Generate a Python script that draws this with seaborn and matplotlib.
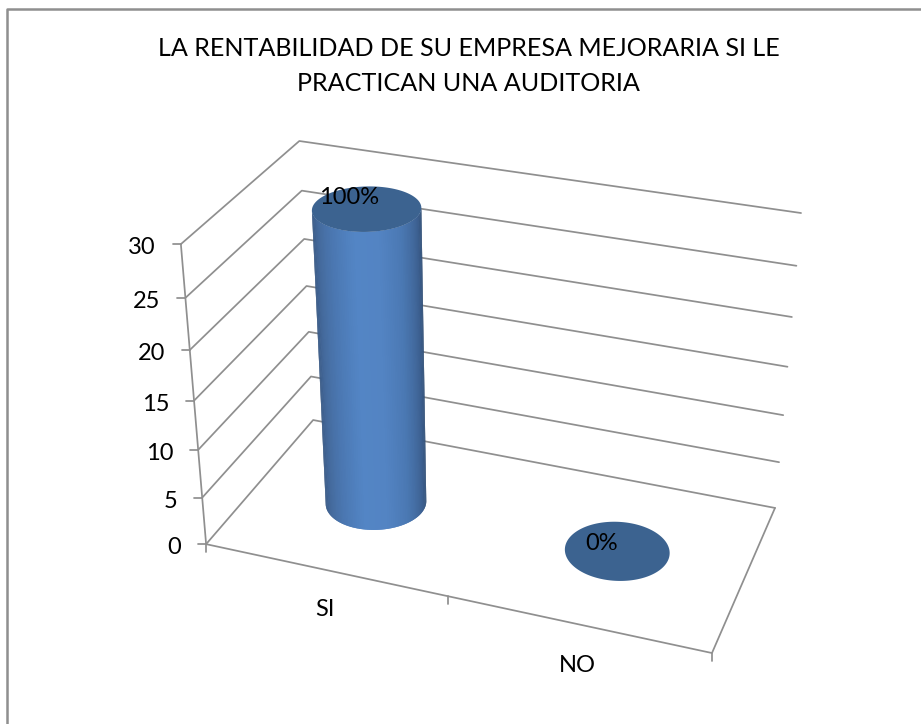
import matplotlib
matplotlib.use("Agg")
import matplotlib.pyplot as plt
import numpy as np
import pandas as pd
import seaborn as sns

TITLE = "LA RENTABILIDAD DE SU EMPRESA MEJORARIA SI LE\nPRACTICAN UNA AUDITORIA"
categories = ["SI", "NO"]
values = [30, 0]
percent_labels = ["100%", "0%"]
y_ticks = [0, 5, 10, 15, 20, 25, 30]

# camera fit: (x, depth, value) -> pixel, from the corners of the chart box
CORNERS_3D = [(0, 0, 0), (2, 0, 0), (2, 1, 0), (0, 1, 0), (0, 0, 30), (0, 1, 30), (2, 1, 30), (0, 0, 15), (0, 1, 15)]
CORNERS_PX = [(206, 544), (712, 653), (775, 508), (313, 420), (181, 244), (299, 141), (801, 213), (194, 401), (307, 286)]
RX, RD = 0.2, 0.2
LINE_COLOR = "#8f8f8f"
TOP_COLOR = "#3c6390"


def fit_camera():
    rows, rhs = [], []
    for (x, d, v), (u, w) in zip(CORNERS_3D, CORNERS_PX):
        rows.append([x, d, v, 1, 0, 0, 0, 0, -u * x, -u * d, -u * v])
        rhs.append(u)
        rows.append([0, 0, 0, 0, x, d, v, 1, -w * x, -w * d, -w * v])
        rhs.append(w)
    m = np.linalg.lstsq(np.array(rows, float), np.array(rhs, float), rcond=None)[0]
    return np.append(m, 1.0).reshape(3, 4)


CAM = fit_camera()


def project(x, d, v):
    x, d, v = np.broadcast_arrays(x, d, v)
    p = CAM @ np.vstack([x.ravel(), d.ravel(), v.ravel(), np.ones(x.size)])
    return p[0] / p[2], p[1] / p[2]


def ring(i, value, t):
    return project(i + 0.5 + RX * np.cos(t), 0.5 + RD * np.sin(t), value)


def front_arc(i, value, s):
    # s=0 is the left extreme of the ring, s=1 the right one, through the front
    t = np.linspace(0, 2 * np.pi, 1441)
    px, _ = ring(i, value, t)
    tl, tr = t[np.argmin(px)], t[np.argmax(px)]
    if tr < tl:
        tr += 2 * np.pi
    return ring(i, value, tl + s * (tr - tl))


# grid lines as one long table for seaborn
rows = []
for v in y_ticks:
    for j, (x, d) in enumerate([(0, 0), (0, 1), (2, 1)]):
        u, w = project(x, d, v)
        rows.append({"line": f"w{v}", "order": j, "px": u[0], "py": w[0]})
for j, (x, d) in enumerate([(0, 0), (2, 0), (2, 1)]):
    u, w = project(x, d, 0)
    rows.append({"line": "floor", "order": j, "px": u[0], "py": w[0]})
for j, v in enumerate([y_ticks[0], y_ticks[-1]]):
    u, w = project(0, 0, v)
    rows.append({"line": "axis", "order": j, "px": u[0], "py": w[0]})
for v in y_ticks:
    u, w = project(0, 0, v)
    rows.append({"line": f"yt{v}", "order": 0, "px": u[0], "py": w[0]})
    rows.append({"line": f"yt{v}", "order": 1, "px": u[0] - 8, "py": w[0]})
for x in [0, 1, 2]:
    u, w = project(x, 0, 0)
    rows.append({"line": f"xt{x}", "order": 0, "px": u[0], "py": w[0]})
    rows.append({"line": f"xt{x}", "order": 1, "px": u[0], "py": w[0] + 8})
grid = pd.DataFrame(rows)

sns.set_theme(style="white")
plt.rcParams["font.family"] = ["Lato", "DejaVu Sans"]

fig = plt.figure(figsize=(9.21, 7.24), dpi=100)
ax = fig.add_axes([0, 0, 1, 1])

# the frame only shows on the left and top, the rest is cut off
ax.plot([7, 7, 921], [724, 9, 9], color=LINE_COLOR, lw=1.8, zorder=1)

sns.lineplot(data=grid, x="px", y="py", units="line", estimator=None, sort=False,
             color=LINE_COLOR, lw=1.25, ax=ax, legend=False, zorder=2)
ax.set_xlim(0, 921)
ax.set_ylim(724, 0)
ax.axis("off")

shade = sns.blend_palette(["#33527c", "#44699b", "#4b78b2", "#5385c5", "#5384c3", "#4b79b3", "#3f6496", "#2f4c72"], 80)

for i, val in enumerate(values):
    if val > 0:
        # side of the cylinder, strips overlap by one so no seams show
        # but not more than that, stacked antialiased edges go jagged
        for k, col in enumerate(shade):
            s = np.linspace(k / len(shade), min((k + 2) / len(shade), 1), 12)
            x0, y0 = front_arc(i, 0, s)
            x1, y1 = front_arc(i, val, s)
            ax.fill(np.r_[x0, x1[::-1]], np.r_[y0, y1[::-1]], color=col, lw=0, zorder=3)
    ex, ey = ring(i, val, np.linspace(0, 2 * np.pi, 361))
    ax.fill(ex, ey, color=TOP_COLOR, lw=0, zorder=4)

# text
ax.text(468.5, 66, TITLE, ha="center", va="center", fontsize=18.1, color="black", linespacing=1.63)
for v in y_ticks:
    u, w = project(0, 0, v)
    ax.text(u[0] - 25, w[0] + 3.5, str(v), ha="right", va="center", fontsize=17, color="black")
cat_pos = [(325, 609), (577, 665)]
for name, (u, w) in zip(categories, cat_pos):
    ax.text(u, w, name, ha="center", va="center", fontsize=17, color="black")
pct_pos = [(349, 198), (602, 544)]
for lab, (u, w) in zip(percent_labels, pct_pos):
    ax.text(u, w, lab, ha="center", va="center", fontsize=17, color="black", zorder=5)

fig.savefig("out.png", dpi=100)
